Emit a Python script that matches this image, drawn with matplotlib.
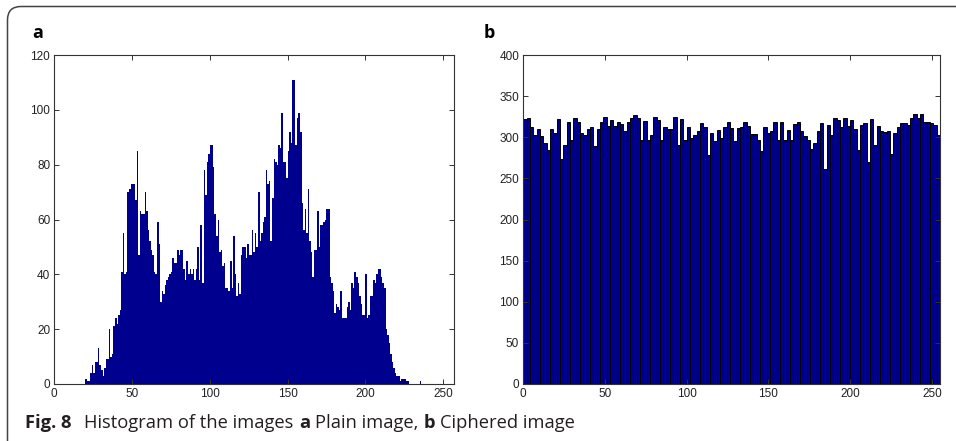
import numpy as np
import matplotlib.pyplot as plt
from matplotlib.path import Path
from matplotlib.patches import PathPatch
from matplotlib.transforms import IdentityTransform

# histogram of the plain image, 256 grey levels
plain_counts = (
    [0] * 20 +
    [2, 1, 1, 4, 7, 4, 8, 8, 13, 7,
     5, 3, 6, 9, 9, 20, 10, 11, 21, 24,
     22, 25, 27, 41, 55, 40, 41, 70, 71, 73,
     73, 73, 67, 85, 47, 63, 62, 62, 70, 63,
     56, 52, 49, 47, 41, 40, 59, 51, 30, 34,
     33, 36, 38, 39, 40, 41, 46, 44, 44, 49,
     47, 49, 49, 42, 38, 45, 40, 42, 40, 42,
     38, 42, 50, 38, 58, 37, 78, 69, 81, 84,
     87, 87, 79, 62, 54, 60, 48, 49, 43, 44,
     35, 35, 34, 45, 35, 54, 40, 32, 37, 33,
     47, 50, 50, 46, 51, 47, 47, 56, 48, 55,
     50, 70, 52, 55, 59, 61, 78, 73, 74, 52,
     68, 82, 81, 80, 87, 86, 99, 81, 81, 75,
     85, 92, 88, 111, 111, 87, 97, 99, 92, 66,
     56, 64, 55, 71, 52, 48, 39, 49, 49, 63,
     50, 58, 58, 59, 60, 64, 64, 39, 37, 34,
     26, 29, 28, 27, 34, 24, 24, 24, 28, 30,
     27, 37, 35, 41, 39, 37, 32, 29, 25, 25,
     40, 24, 25, 32, 32, 38, 37, 40, 42, 42,
     39, 37, 35, 20, 18, 15, 11, 8, 6, 4,
     3, 3, 1, 2, 2, 2, 1, 1] +
    [0] * 7 + [1] + [0] * 20
)

# histogram of the ciphered image
cipher_counts = [
    322, 323, 313, 303, 310, 301, 293, 285, 310, 305,
    322, 273, 291, 318, 297, 324, 318, 305, 303, 310,
    312, 289, 310, 318, 325, 314, 321, 314, 319, 316,
    307, 318, 323, 327, 324, 297, 320, 297, 303, 325,
    321, 297, 313, 310, 310, 325, 291, 322, 297, 313,
    299, 303, 308, 317, 313, 278, 305, 296, 309, 299,
    313, 318, 311, 295, 311, 313, 319, 314, 304, 304,
    297, 283, 312, 305, 308, 318, 297, 318, 297, 309,
    297, 316, 318, 308, 302, 297, 286, 293, 307, 317,
    262, 315, 303, 323, 321, 312, 324, 314, 321, 310,
    284, 315, 317, 270, 322, 291, 314, 308, 306, 307,
    280, 305, 312, 317, 317, 315, 323, 328, 323, 328,
    318, 318, 317, 315, 303,
]

plt.rcParams['font.family'] = 'Liberation Sans'
navy = '#00008f'

fig = plt.figure(figsize=(9.56, 4.41), dpi=100)
ax1 = fig.add_axes([54.3 / 956, 57 / 441, 399.7 / 956, 329 / 441])
ax2 = fig.add_axes([523.3 / 956, 57 / 441, 416.7 / 956, 329 / 441])

ax1.bar(np.arange(len(plain_counts)), plain_counts, width=1, align='edge',
        color=navy, linewidth=0)
ax1.set_xlim(0, 257)
ax1.set_ylim(0, 120)
ax1.set_xticks(range(0, 251, 50))
ax1.set_yticks(range(0, 121, 20))

n = len(cipher_counts)
edges = np.linspace(0, 255, n + 1)
ax2.bar(edges[:-1], cipher_counts, width=255 / n, align='edge',
        color=navy, edgecolor='black', linewidth=0.7)
ax2.set_xlim(0, 255)
ax2.set_ylim(0, 400)
ax2.set_xticks(range(0, 251, 50))
ax2.set_yticks(range(0, 401, 50))

for ax in (ax1, ax2):
    ax.tick_params(direction='in', top=True, right=True, length=3.5, width=0.7,
                   labelsize=8.5, pad=3, colors='#333333', labelcolor='#222222')
    for s in ax.spines.values():
        s.set_linewidth(0.8)
        s.set_color('#333333')

# panel letters
fig.text(32 / 956, 1 - 38 / 441, 'a', fontsize=13, fontweight='bold',
         family='Open Sans', va='baseline')
fig.text(484 / 956, 1 - 38 / 441, 'b', fontsize=13, fontweight='bold',
         family='Open Sans', va='baseline')

# caption built from pieces with mixed weights
pieces = [('Fig. 8', 'bold', 13), ('Histogram of the images', 'normal', 5),
          ('a', 'bold', 5), ('Plain image,', 'normal', 5),
          ('b', 'bold', 5), ('Ciphered image', 'normal', 0)]
renderer = fig.canvas.get_renderer()
x = 25
for txt, wt, gap in pieces:
    t = fig.text(x / 956, 13 / 441, txt, fontsize=13.2, fontweight=wt,
                 family='Open Sans', va='baseline', color='#231f20')
    bb = t.get_window_extent(renderer=renderer)
    x = bb.x1 + gap

# frame around the figure (top and left edges, rounded corner)
verts = [(7.5, -5), (7.5, 441 - 20), (7.5, 441 - 6.5), (21, 441 - 6.5), (965, 441 - 6.5)]
codes = [Path.MOVETO, Path.LINETO, Path.CURVE3, Path.CURVE3, Path.LINETO]
frame = PathPatch(Path(verts, codes), fill=False, edgecolor='#444444',
                  linewidth=1.1, transform=IdentityTransform())
fig.patches.append(frame)

fig.savefig('out.png', dpi=100)
